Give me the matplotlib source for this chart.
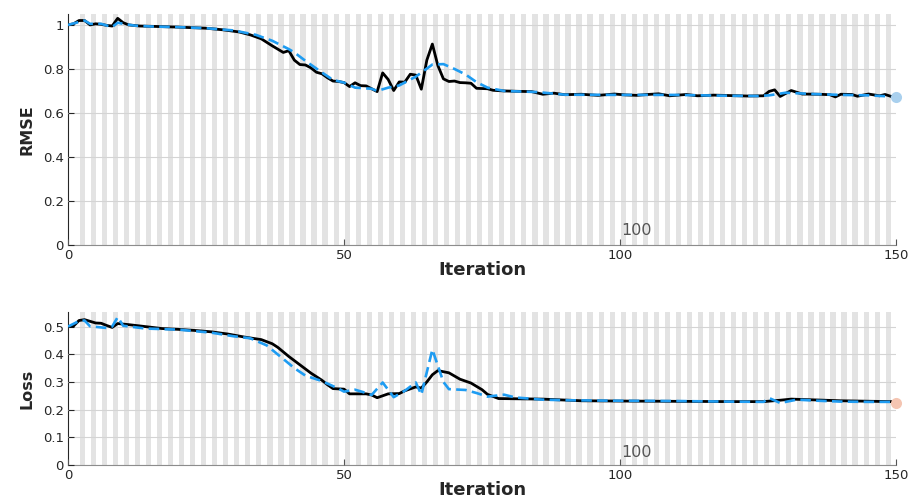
import matplotlib
matplotlib.use("Agg")
import matplotlib.pyplot as plt
import matplotlib.transforms as mtransforms

# training RMSE (black, solid)
rmse_train_it = [0, 1, 2, 3, 4, 5, 6, 7, 8, 9, 10, 11, 13, 16, 20, 25, 28, 31, 33, 35,
                 37, 38, 39, 40, 41, 42, 43, 44, 45, 46, 47, 48, 49, 50, 51, 52, 53, 54, 55, 56,
                 57, 58, 59, 60, 61, 62, 63, 64, 65, 66, 67, 68, 69, 70, 71, 72, 73, 74, 76, 77,
                 79, 82, 84, 86, 88, 90, 93, 96, 99, 101, 103, 105, 107, 109, 112, 114, 117, 120, 123, 126,
                 127, 128, 129, 131, 133, 136, 138, 139, 140, 142, 143, 145, 147, 148, 149]
rmse_train = [1.0, 1.005, 1.02, 1.02, 1.0, 1.005, 1.003, 0.998, 0.995, 1.03, 1.01, 1.0, 0.995, 0.993, 0.99, 0.985, 0.978, 0.968, 0.955, 0.937,
              0.905, 0.89, 0.875, 0.883, 0.84, 0.82, 0.818, 0.805, 0.785, 0.778, 0.76, 0.745, 0.743, 0.738, 0.72, 0.737, 0.724, 0.723, 0.71, 0.697,
              0.782, 0.752, 0.702, 0.741, 0.74, 0.776, 0.772, 0.708, 0.84, 0.913, 0.815, 0.755, 0.743, 0.745, 0.738, 0.737, 0.735, 0.712, 0.71, 0.703,
              0.7, 0.698, 0.697, 0.685, 0.69, 0.683, 0.685, 0.68, 0.686, 0.682, 0.68, 0.684, 0.687, 0.678, 0.684, 0.678, 0.681, 0.679, 0.677, 0.678,
              0.698, 0.705, 0.675, 0.702, 0.686, 0.685, 0.683, 0.673, 0.685, 0.684, 0.676, 0.686, 0.678, 0.684, 0.676]

# validation RMSE (blue, dashed)
rmse_val_it = [0, 3, 4, 6, 8, 9, 10, 12, 15, 20, 25, 30, 34, 37, 40, 41, 43, 46, 48, 50,
               52, 55, 56, 58, 60, 63, 66, 68, 70, 72, 74, 76, 79, 85, 90, 100, 110, 120, 125, 127,
               130, 135, 140, 145, 149]
rmse_val = [1.0, 1.02, 1.005, 1.005, 0.99, 1.01, 1.005, 0.997, 0.993, 0.99, 0.985, 0.975, 0.955, 0.928, 0.89, 0.875, 0.837, 0.784, 0.75, 0.738,
            0.715, 0.71, 0.70, 0.715, 0.725, 0.765, 0.82, 0.822, 0.80, 0.775, 0.74, 0.715, 0.70, 0.695, 0.683, 0.682, 0.682, 0.678, 0.677, 0.68,
            0.692, 0.686, 0.682, 0.68, 0.675]
rmse_final = 0.671

# training loss (black, solid)
loss_train_it = [0, 1, 2, 3, 5, 6, 7, 8, 9, 11, 14, 17, 20, 23, 26, 29, 32, 35, 37, 38,
                 40, 42, 44, 46, 47, 48, 50, 51, 54, 55, 56, 58, 60, 61, 63, 64, 65, 66, 67, 69,
                 71, 73, 75, 76, 78, 86, 93, 100, 110, 120, 126, 129, 131, 134, 140, 149]
loss_train = [0.5, 0.502, 0.522, 0.525, 0.513, 0.512, 0.504, 0.497, 0.511, 0.507, 0.5, 0.493, 0.49, 0.486, 0.481, 0.473, 0.462, 0.453, 0.438, 0.425,
              0.392, 0.362, 0.332, 0.306, 0.29, 0.276, 0.274, 0.257, 0.257, 0.253, 0.243, 0.257, 0.258, 0.268, 0.282, 0.278, 0.3, 0.326, 0.341, 0.333,
              0.31, 0.296, 0.272, 0.255, 0.24, 0.238, 0.232, 0.231, 0.23, 0.229, 0.229, 0.234, 0.238, 0.236, 0.232, 0.229]

# validation loss (blue, dashed)
loss_val_it = [0, 2, 3, 4, 6, 7, 8, 9, 10, 14, 20, 26, 30, 33, 36, 39, 41, 43, 46, 49,
               50, 52, 54, 55, 57, 59, 61, 63, 64, 66, 68, 69, 72, 74, 76, 79, 81, 86, 90, 100,
               110, 120, 126, 127, 129, 132, 136, 140, 145, 149]
loss_val = [0.5, 0.52, 0.522, 0.501, 0.497, 0.495, 0.5, 0.534, 0.503, 0.493, 0.489, 0.478, 0.465, 0.458, 0.432, 0.383, 0.35, 0.323, 0.303, 0.276,
            0.265, 0.272, 0.26, 0.253, 0.298, 0.245, 0.268, 0.298, 0.254, 0.417, 0.3, 0.274, 0.271, 0.26, 0.247, 0.254, 0.244, 0.236, 0.234, 0.232,
            0.231, 0.229, 0.228, 0.242, 0.224, 0.236, 0.232, 0.229, 0.228, 0.228]
loss_final = 0.225

x_ticks = [0, 50, 100, 150]
rmse_ticks = [0, 0.2, 0.4, 0.6, 0.8, 1]
loss_ticks = [0, 0.1, 0.2, 0.3, 0.4, 0.5]

TXT = "#262626"
BLUE = "#1e9cf2"

fig = plt.figure(figsize=(9.09, 4.97), dpi=100)
ax1 = fig.add_axes([0.0748, 0.507, 0.911, 0.465])
ax2 = fig.add_axes([0.0748, 0.0644, 0.911, 0.308])


def style(ax, ylim, yticks, ylabel, train_it, train, val_it, val, final, final_color):
    # alternating epoch bands
    for k in range(1, 75):
        ax.axvspan(2 * k + 0.1, 2 * k + 1.05, color="#e3e3e3", lw=0, zorder=0)
    ax.set_xlim(0, 150)
    ax.set_ylim(*ylim)
    ax.set_yticks(yticks)
    ax.set_yticklabels([f"{t:g}" for t in yticks])
    ax.set_xticks(x_ticks)
    ax.yaxis.grid(True, color="#d4d4d4", lw=0.8, zorder=1)
    ax.set_axisbelow(False)
    ax.plot(train_it, train, color="black", lw=2.0, zorder=3)
    ax.plot(val_it, val, color=BLUE, lw=1.9, dashes=(4, 2), zorder=4)
    ax.plot([150], [final], "o", ms=8, color=final_color, mec="none", clip_on=False, zorder=5)
    for s in ("top", "right"):
        ax.spines[s].set_visible(False)
    ax.spines["left"].set_color(TXT)
    ax.spines["bottom"].set_color("#8c8c8c")
    ax.tick_params(direction="in", length=4, width=0.8, colors=TXT, labelsize=9.5, pad=3)
    ax.tick_params(axis="x", colors="#555555", labelcolor=TXT)
    ax.set_xlabel("Iteration", fontsize=13, fontweight="bold", color=TXT, labelpad=-1)
    ax.set_ylabel(ylabel, fontsize=11.5, fontweight="bold", color=TXT, labelpad=6)
    trans = mtransforms.blended_transform_factory(ax.transData, ax.transAxes)
    ax.text(100.3, 0.03, "100", transform=trans, fontsize=11.5, color="#555555",
            ha="left", va="bottom", zorder=6)


style(ax1, (0, 1.05), rmse_ticks, "RMSE", rmse_train_it, rmse_train,
      rmse_val_it, rmse_val, rmse_final, "#a9d0ee")
style(ax2, (0, 0.553), loss_ticks, "Loss", loss_train_it, loss_train,
      loss_val_it, loss_val, loss_final, "#f4c5b2")

fig.savefig("out.png", dpi=100)
